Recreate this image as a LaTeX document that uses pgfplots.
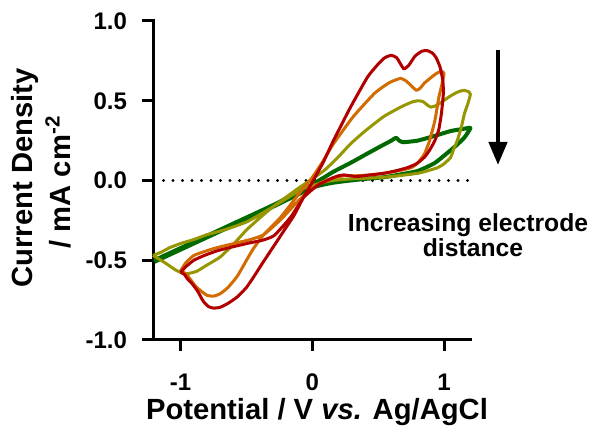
\documentclass[border=0pt]{standalone}
\usepackage{fontspec}
\setmainfont{Liberation Sans}
\usepackage{pgfplots}
\pgfplotsset{compat=1.18}
\usetikzlibrary{arrows.meta}
\definecolor{cred}{RGB}{178,0,0}
\definecolor{corange}{RGB}{210,108,0}
\definecolor{colive}{RGB}{150,150,0}
\definecolor{cgreen}{RGB}{0,105,0}
\begin{document}
\begin{tikzpicture}
\useasboundingbox (-76.5pt,-46pt) rectangle (222.5pt,170pt);
\begin{axis}[
  at={(0,0)}, anchor=south west, scale only axis,
  width=158.7pt, height=159.5pt,
  xmin=-1.21, xmax=1.2, ymin=-1, ymax=1,
  axis x line=bottom, axis y line=left,
  axis line style={-, line width=1.5pt, line cap=rect},
  every tick/.style={line width=1.5pt, black},
  tick align=outside, major tick length=5.5pt,
  xtick={-1,0,1}, xticklabels={-1,0,1},
  ytick={-1,-0.5,0,0.5,1}, yticklabels={-1.0,-0.5,0.0,0.5,1.0},
  tick label style={font=\fontsize{12}{14}\selectfont\bfseries},
  xticklabel style={anchor=base, yshift=-20pt},
  yticklabel style={anchor=east, xshift=-4pt},
  clip=false,
  every axis plot/.append style={line join=round, smooth, tension=0.3},
]
\addplot[black, line width=1.7pt, line cap=round, dash pattern=on 0pt off 4.75pt, no marks, sharp plot] coordinates {(-1.13,0) (1.18,0)};

% green
\addplot[cgreen, line width=2pt, no marks] coordinates {
(-1.2,-0.5) (-0.9,-0.385) (-0.6,-0.27) (-0.3,-0.155) (-0.1,-0.07) (0,-0.025) (0.1,0.025) (0.16,0.055) (0.3,0.115) (0.42,0.17) (0.52,0.215) (0.6,0.25) (0.635,0.268) (0.66,0.25) (0.69,0.24) (0.8,0.25) (0.93,0.28) (1.05,0.31) (1.155,0.325) (1.2,0.33) (1.18,0.30) (1.155,0.27) (1.1,0.225) (1.05,0.19) (0.93,0.11) (0.8,0.06) (0.65,0.035) (0.54,0.02) (0.4,0.01) (0.29,0.0) (0.15,-0.015) (0.0,-0.045) (-0.3,-0.165) (-0.6,-0.28) (-0.9,-0.395) (-1.2,-0.51)
};
% olive
\addplot[colive, line width=1.5pt, no marks] coordinates {
(-1.21,-0.47) (-1.13,-0.51) (-1.03,-0.565) (-0.96,-0.585) (-0.88,-0.57) (-0.8,-0.53) (-0.7,-0.48) (-0.6,-0.40) (-0.5,-0.31) (-0.4,-0.235) (-0.3,-0.165) (-0.2,-0.105) (-0.1,-0.045) (0,0.01) (0.1,0.07) (0.2,0.15) (0.29,0.23) (0.4,0.31) (0.54,0.40) (0.67,0.46) (0.75,0.49) (0.80,0.50) (0.84,0.495) (0.87,0.475) (0.90,0.46) (0.94,0.47) (0.98,0.49) (1.03,0.52) (1.08,0.545) (1.12,0.56) (1.155,0.565) (1.19,0.555) (1.2,0.54) (1.18,0.48) (1.155,0.42) (1.13,0.33) (1.1,0.25) (1.07,0.19) (1.05,0.145) (1.0,0.105) (0.95,0.08) (0.80,0.045) (0.54,0.02) (0.29,0.01) (0.15,0.0) (0.05,-0.02) (-0.07,-0.05) (-0.22,-0.125) (-0.37,-0.20) (-0.5,-0.26) (-0.65,-0.305) (-0.8,-0.34) (-0.9,-0.37) (-1.0,-0.395) (-1.08,-0.42) (-1.15,-0.45) (-1.21,-0.47)
};
% orange
\addplot[corange, line width=1.5pt, no marks] coordinates {
(-1.0,-0.565) (-0.96,-0.585) (-0.93,-0.615) (-0.89,-0.66) (-0.85,-0.69) (-0.8,-0.72) (-0.75,-0.725) (-0.7,-0.71) (-0.64,-0.67) (-0.57,-0.60) (-0.5,-0.50) (-0.45,-0.43) (-0.37,-0.34) (-0.24,-0.23) (-0.09,-0.07) (0,0.02) (0.08,0.12) (0.16,0.23) (0.31,0.40) (0.47,0.545) (0.55,0.595) (0.6,0.62) (0.67,0.64) (0.71,0.625) (0.75,0.595) (0.79,0.565) (0.82,0.58) (0.85,0.61) (0.9,0.645) (0.94,0.67) (0.98,0.685) (1.0,0.67) (0.98,0.59) (0.96,0.52) (0.93,0.375) (0.89,0.25) (0.85,0.165) (0.8,0.11) (0.75,0.08) (0.65,0.06) (0.5,0.04) (0.35,0.03) (0.28,0.03) (0.24,0.03) (0.18,0.02) (0.1,0.0) (0.0,-0.045) (-0.11,-0.13) (-0.24,-0.245) (-0.37,-0.34) (-0.47,-0.37) (-0.62,-0.40) (-0.72,-0.42) (-0.8,-0.44) (-0.9,-0.47) (-0.96,-0.515) (-1.0,-0.565)
};
% red
\addplot[cred, line width=1.5pt, no marks] coordinates {
(-1.0,-0.575) (-0.97,-0.59) (-0.95,-0.615) (-0.91,-0.65) (-0.87,-0.695) (-0.83,-0.755) (-0.79,-0.79) (-0.75,-0.80) (-0.70,-0.795) (-0.64,-0.77) (-0.57,-0.73) (-0.5,-0.67) (-0.45,-0.61) (-0.38,-0.52) (-0.3,-0.42) (-0.22,-0.32) (-0.14,-0.22) (-0.07,-0.11) (0,-0.01) (0.08,0.11) (0.16,0.25) (0.29,0.46) (0.42,0.65) (0.5,0.73) (0.55,0.77) (0.6,0.785) (0.64,0.77) (0.67,0.73) (0.695,0.70) (0.73,0.72) (0.78,0.78) (0.83,0.81) (0.87,0.815) (0.91,0.80) (0.94,0.77) (0.97,0.71) (0.99,0.63) (0.995,0.55) (0.98,0.42) (0.96,0.32) (0.93,0.25) (0.89,0.19) (0.85,0.145) (0.79,0.105) (0.72,0.08) (0.63,0.06) (0.54,0.045) (0.44,0.035) (0.34,0.025) (0.28,0.03) (0.24,0.035) (0.2,0.03) (0.15,0.015) (0.1,-0.005) (0.04,-0.03) (-0.065,-0.105) (-0.165,-0.23) (-0.29,-0.345) (-0.38,-0.375) (-0.47,-0.39) (-0.6,-0.415) (-0.72,-0.44) (-0.82,-0.47) (-0.9,-0.50) (-0.96,-0.54) (-1.0,-0.575)
};
\end{axis}
\node[rotate=90, anchor=base, font=\fontsize{14.6}{17}\selectfont\bfseries] at (-60pt,81pt) {Current Density};
\node[rotate=90, anchor=base, font=\fontsize{14.6}{17}\selectfont\bfseries] at (-41.5pt,79pt) {/ mA cm\textsuperscript{-2}};
\node[anchor=base, font=\fontsize{14.6}{17}\selectfont\bfseries] at (82pt,-40pt) {Potential / V \textit{vs.} Ag/AgCl};
\node[anchor=base, font=\fontsize{12.35}{14}\selectfont\bfseries] at (157.5pt,54.15pt) {Increasing electrode};
\node[anchor=base, font=\fontsize{12.35}{14}\selectfont\bfseries] at (160pt,41.65pt) {distance};
\draw[line width=2.2pt, -{Triangle[width=9pt,length=11.5pt]}] (172.5pt,145pt) -- (172.5pt,87.5pt);
\end{tikzpicture}
\end{document}
